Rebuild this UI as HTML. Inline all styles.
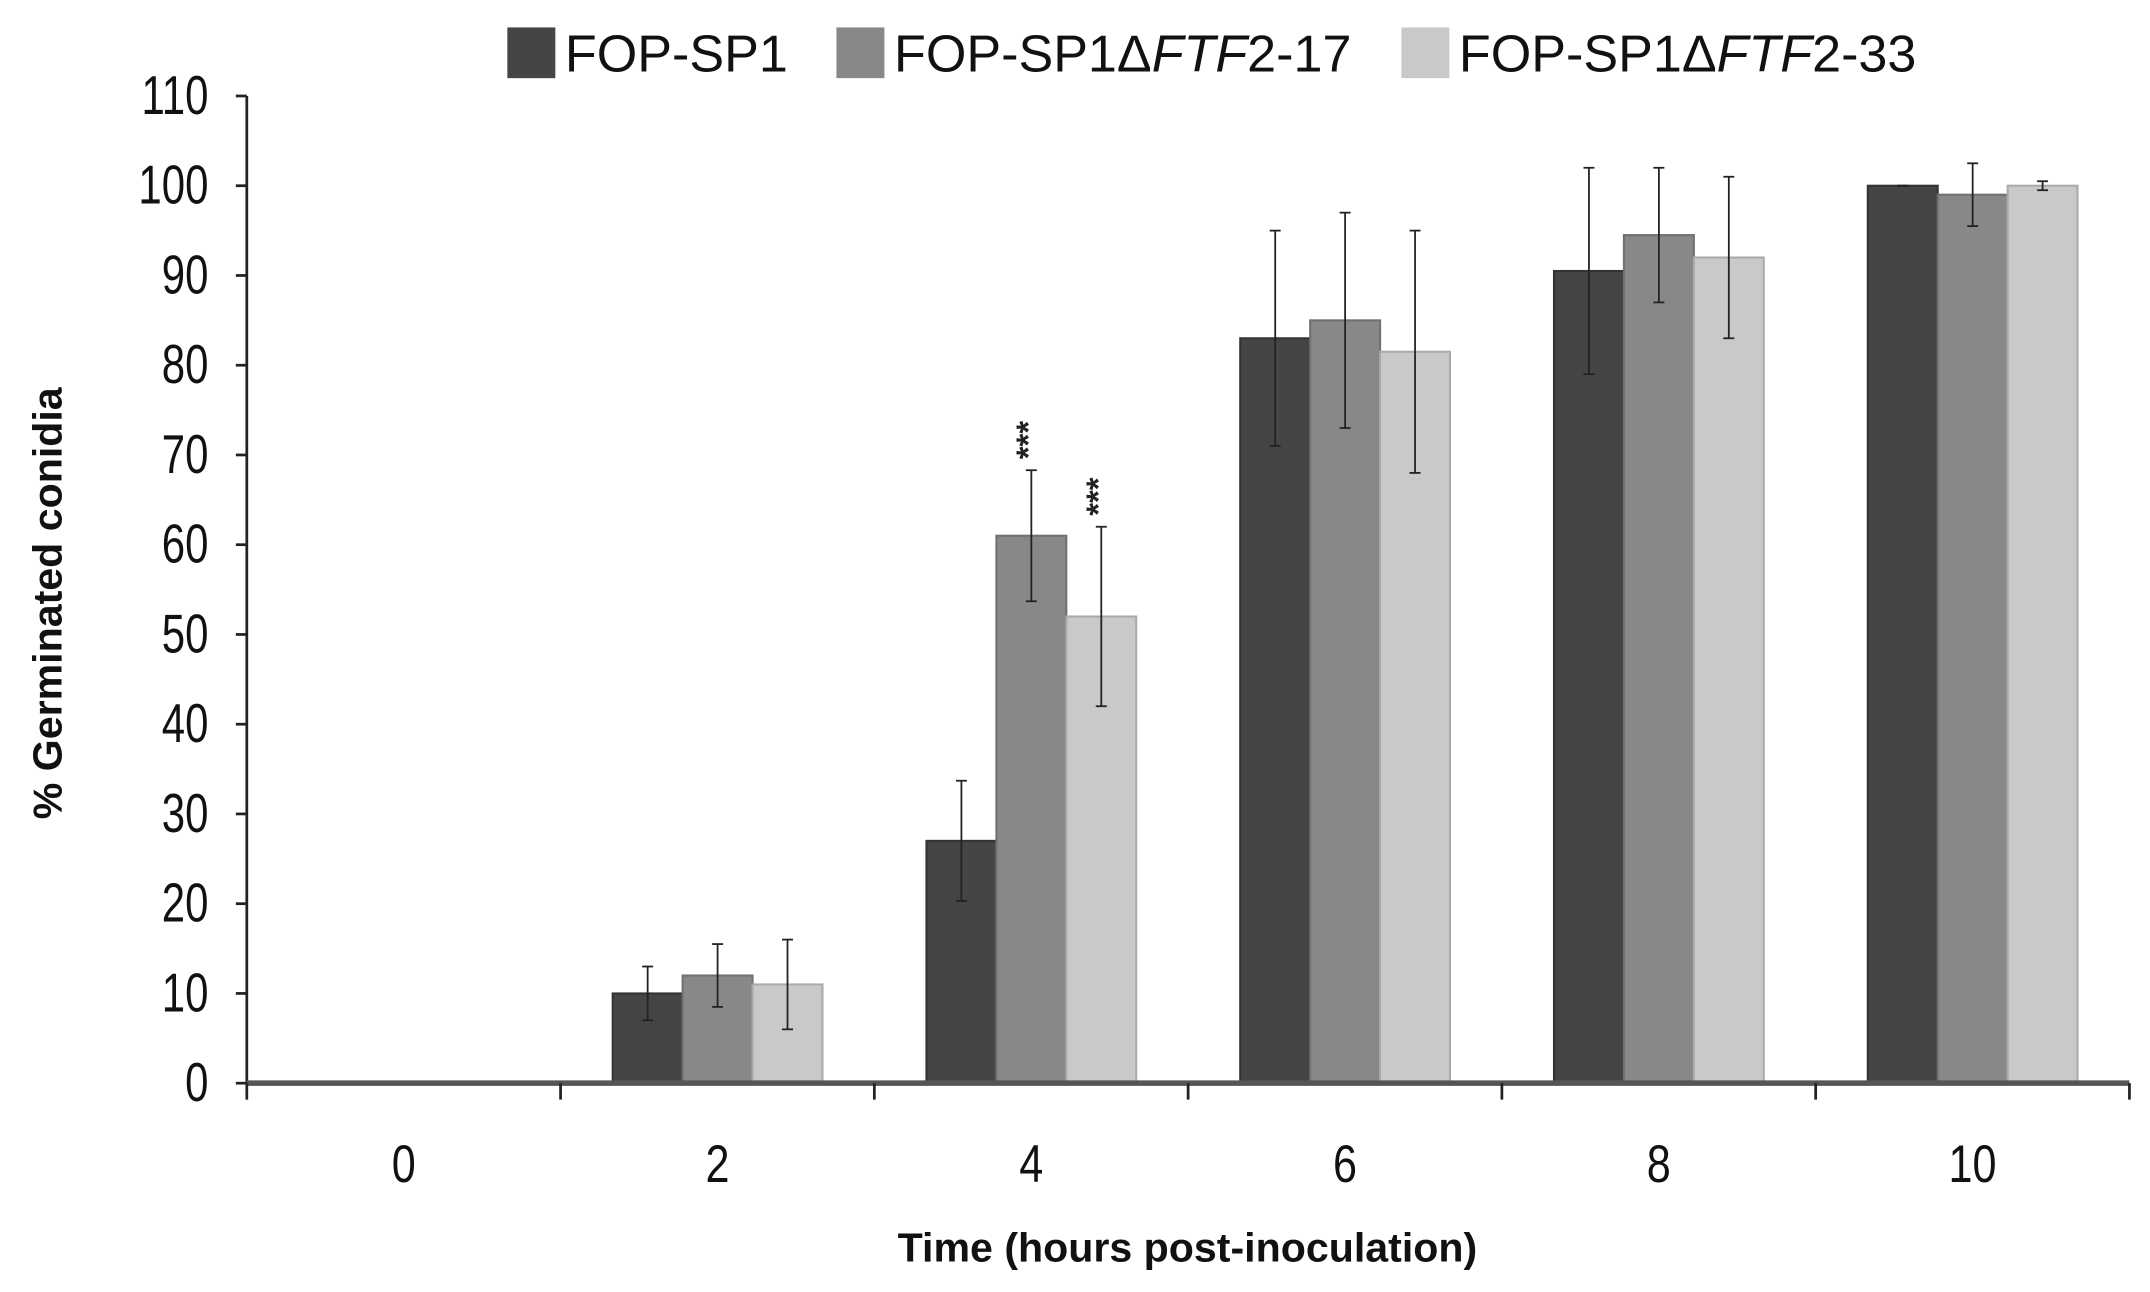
<!DOCTYPE html>
<html><head><meta charset="utf-8"><style>
html,body{margin:0;padding:0;background:#fff;}
svg{display:block;font-family:"Liberation Sans",sans-serif;}
</style></head><body>
<svg id="chart" width="2150" height="1292" viewBox="0 0 1568 942.3" preserveAspectRatio="none" xmlns="http://www.w3.org/2000/svg"></svg>
<script>
const categories = ["0","2","4","6","8","10"];
const seriesNames = ["FOP-SP1","FOP-SP1\u0394FTF2-17","FOP-SP1\u0394FTF2-33"];
const s1 = [0,10,27,83,90.5,100];
const s2 = [0,12,61,85,94.5,99];
const s3 = [0,11,52,81.5,92,100];
const e1 = [0,3,6.7,12,11.5,0];
const e2 = [0,3.5,7.3,12,7.5,3.5];
const e3 = [0,5,10,13.5,9,0.5];
const yTicks = [0,10,20,30,40,50,60,70,80,90,100,110];
const stars = [[2,1],[2,2]];

const NS="http://www.w3.org/2000/svg";
const svg=document.getElementById('chart');
const X0=180,X1=1553,Y0=790,Y1=70,YMAX=110;
const catW=(X1-X0)/categories.length;
const barW=51;
const y=v=>Y0-(v/YMAX)*(Y0-Y1);
const xBar=(i,s)=>X0+i*catW+38+s*barW;
function mk(tag,attrs,parent){const e=document.createElementNS(NS,tag);for(const k in attrs)e.setAttribute(k,attrs[k]);(parent||svg).appendChild(e);return e;}
const colors=["#454545","#888888","#c9c9c9"];
const edges=["#333","#707070","#aaa"];
const series=[s1,s2,s3], errs=[e1,e2,e3];

series.forEach((data,s)=>{
  data.forEach((v,i)=>{
    if(v<=0)return;
    const r=mk('rect',{x:xBar(i,s),y:y(v),width:barW,height:Y0-y(v),fill:colors[s],stroke:edges[s],'stroke-width':1.5});
    
    
  });
});
series.forEach((data,s)=>{
  data.forEach((v,i)=>{
    if(v<=0)return;
    const cx=xBar(i,s)+barW/2, hi=y(Math.min(v+errs[s][i],YMAX)), lo=y(v-errs[s][i]);
    const g=mk('g',{stroke:'#222','stroke-width':1.3});
    
    
    mk('line',{x1:cx,x2:cx,y1:hi,y2:lo},g);
    mk('line',{x1:cx-4,x2:cx+4,y1:hi,y2:hi},g);
    mk('line',{x1:cx-4,x2:cx+4,y1:lo,y2:lo},g);
  });
});
stars.forEach(([i,s])=>{
  const cx=xBar(i,s)+barW/2, top=y(series[s][i]+errs[s][i])-8;
  const t=mk('text',{x:0,y:0,transform:`translate(${cx+6},${top}) rotate(-90)`,'font-size':24,'font-weight':'bold',fill:'#222'});
  
  
  t.textContent='***';
});
const ax=mk('g',{stroke:'#222','stroke-width':2});


mk('line',{x1:X0,x2:X0,y1:Y1,y2:Y0},ax);
mk('line',{x1:X0,x2:X1,y1:Y0,y2:Y0,stroke:'#555','stroke-width':4},ax);
yTicks.forEach(v=>{
  mk('line',{x1:X0-8,x2:X0,y1:y(v),y2:y(v)},ax);
  const t=mk('text',{x:0,y:0,transform:`translate(152,${y(v)+13}) scale(0.85,1.1)`,'text-anchor':'end','font-size':36,fill:'#111'});
  
  
  t.textContent=v;
});
for(let i=0;i<=categories.length;i++){
  mk('line',{x1:X0+i*catW,x2:X0+i*catW,y1:Y0,y2:Y0+12},ax);
}
categories.forEach((c,i)=>{
  const t=mk('text',{x:0,y:0,transform:`translate(${X0+(i+0.5)*catW},862) scale(0.9,1.1)`,'text-anchor':'middle','font-size':35,fill:'#111'});
  
  
  t.textContent=c;
});
let t=mk('text',{x:866,y:920,'text-anchor':'middle','font-size':30,'font-weight':'bold',fill:'#111'});


t.textContent='Time (hours post-inoculation)';
t=mk('text',{x:0,y:0,transform:'translate(45,440) rotate(-90)','text-anchor':'middle','font-size':30,'font-weight':'bold',fill:'#111'});


t.textContent='% Germinated conidia';
const legX=[370,610,1022];
seriesNames.forEach((n,s)=>{
  const g=mk('g',{});
  
  
  mk('rect',{x:legX[s],y:20,width:35,height:37,fill:colors[s]},g);
  const tx=mk('text',{x:legX[s]+42,y:52,'font-size':38,fill:'#111'},g);
  if(s===0){tx.textContent=n;}
  else{
    const a=mk('tspan',{},tx);a.textContent='FOP-SP1\u0394';
    const b=mk('tspan',{'font-style':'italic'},tx);b.textContent='FTF';
    const c=mk('tspan',{},tx);c.textContent=s===1?'2-17':'2-33';
  }
});
</script>
</body></html>
